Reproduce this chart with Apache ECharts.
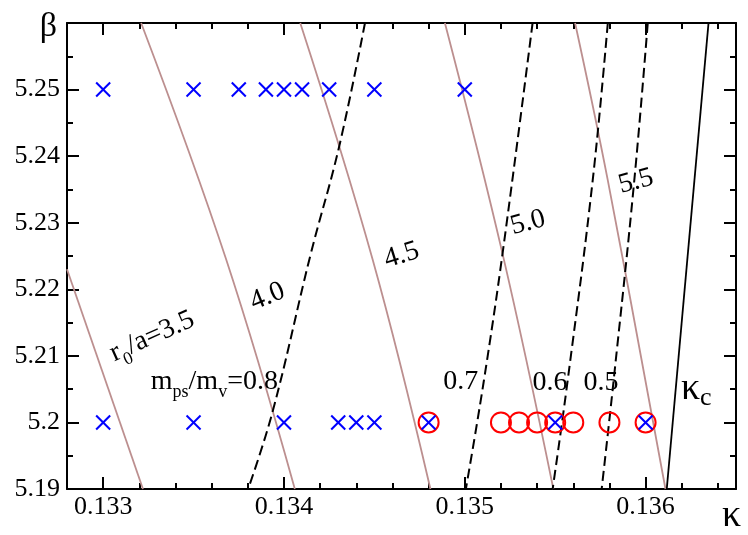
<!DOCTYPE html>
<html>
<head>
<meta charset="utf-8">
<script src="https://cdn.jsdelivr.net/npm/echarts@6/dist/echarts.min.js"></script>
<style>html,body{margin:0;padding:0;background:#fff}#c{width:748px;height:535px}</style>
</head>
<body>
<div id="c"></div>
<script>
// ---- data ----
const xMajorTicks = [0.133, 0.134, 0.135, 0.136];
const xMinorTicks = [0.1328, 0.1332, 0.1334, 0.1336, 0.1338, 0.1342, 0.1344, 0.1346, 0.1348, 0.1352, 0.1354, 0.1356, 0.1358, 0.1362, 0.1364];
const yMajorTicks = [5.19, 5.20, 5.21, 5.22, 5.23, 5.24, 5.25, 5.26];
const yMinorTicks = [5.195, 5.205, 5.215, 5.225, 5.235, 5.245, 5.255];

// simulation points (kappa) at beta = 5.25 and 5.20
const crossKappa525 = [0.1330, 0.1335, 0.13375, 0.1339, 0.1340, 0.1341, 0.13425, 0.1345, 0.1350];
const crossKappa520 = [0.1330, 0.1335, 0.1340, 0.1343, 0.1344, 0.1345, 0.1348, 0.1355, 0.1360];
const circleKappa520 = [0.1348, 0.1352, 0.1353, 0.1354, 0.1355, 0.1356, 0.1358, 0.1360];

// r0/a contours [kappa, beta]
const r0a35 = [[0.1328, 5.223], [0.13322, 5.19]];
const r0a40 = [[0.13321, 5.26], [0.13368, 5.2245], [0.13406, 5.19]];
const r0a45 = [[0.13409, 5.26], [0.13449, 5.2245], [0.13481, 5.19]];
const r0a50 = [[0.13489, 5.26], [0.13521, 5.2252], [0.13549, 5.19]];
const r0a55 = [[0.13561, 5.26], [0.13579, 5.2365], [0.13611, 5.19]];

// m_ps/m_v contours [kappa, beta]
const mpv08 = [[0.134448, 5.26], [0.134304, 5.2413], [0.134147, 5.2252], [0.133938, 5.2017], [0.133802, 5.19]];
const mpv07 = [[0.135375, 5.26], [0.135212, 5.2260], [0.135104, 5.2060], [0.135006, 5.19]];
const mpv06 = [[0.135791, 5.26], [0.135708, 5.2365], [0.135570, 5.2065], [0.135486, 5.19]];
const mpv05 = [[0.136012, 5.26], [0.135938, 5.2365], [0.135824, 5.2065], [0.135757, 5.19]];
const kappaC = [[0.136348, 5.26], [0.136117, 5.19]];

// annotation texts and their anchors [kappa, beta]
const annoTexts = ['{n|r}{s|0}{n|/a=3.5}', '{n|4.0}', '{n|m}{s|ps}{n|/m}{s|v}{n|=0.8}', '{n|4.5}', '{n|5.0}', '{n|5.5}', '{n|0.7}', '{n|0.6}', '{n|0.5}', '{k|κ}{kc|c}'];
const annoAnchors = [[0.133271, 5.2129], [0.133909, 5.2189], [0.133615, 5.2062], [0.134651, 5.2251], [0.135349, 5.2300], [0.135947, 5.2362], [0.134978, 5.2062], [0.135471, 5.2060], [0.135753, 5.2060], [0.136280, 5.2050]];
const annoRotate = [24, 22, 0, 17, 15, 15, 0, 0, 0, 0];

// ---- chart ----
const FONT = '"Liberation Serif", "Times New Roman", serif';
const chart = echarts.init(document.getElementById('c'), null, {renderer: 'canvas'});

function xAxisDef(pos, ticks, len, showLine, showLabel, extra) {
  return Object.assign({
    type: 'value', min: 0.1328, max: 0.1365, position: pos, gridIndex: 0,
    axisLine: {show: showLine, onZero: false, lineStyle: {color: '#000', width: 2}},
    splitLine: {show: false},
    axisTick: {show: true, inside: true, length: len, customValues: ticks, lineStyle: {color: '#000', width: 2}},
    axisLabel: {show: showLabel, customValues: ticks, formatter: v => v.toFixed(3), color: '#000', fontSize: 26, fontFamily: FONT, margin: 5},
    minorTick: {show: false}
  }, extra || {});
}
function yAxisDef(pos, ticks, len, showLine, showLabel, extra) {
  return Object.assign({
    type: 'value', min: 5.19, max: 5.26, position: pos, gridIndex: 0,
    axisLine: {show: showLine, onZero: false, lineStyle: {color: '#000', width: 2}},
    splitLine: {show: false},
    axisTick: {show: true, inside: true, length: len, customValues: ticks, lineStyle: {color: '#000', width: 2}},
    axisLabel: {show: showLabel, customValues: ticks.filter(t => t < 5.2555), formatter: v => String(+v.toFixed(2)), color: '#000', fontSize: 26, fontFamily: FONT, margin: 7},
    minorTick: {show: false}
  }, extra || {});
}

function crossSeries(kappas, beta) {
  return {
    type: 'custom', z: 5,
    data: kappas.map(k => [k, beta]),
    renderItem: function (params, api) {
      const p = api.coord([api.value(0), api.value(1)]);
      const s = 7;
      const st = {stroke: '#0000ff', lineWidth: 2};
      return {type: 'group', children: [
        {type: 'line', shape: {x1: p[0] - s, y1: p[1] - s, x2: p[0] + s, y2: p[1] + s}, style: st},
        {type: 'line', shape: {x1: p[0] - s, y1: p[1] + s, x2: p[0] + s, y2: p[1] - s}, style: st}
      ]};
    }
  };
}
function brown(d) {
  return {type: 'line', data: d, smooth: 0.4, showSymbol: false, symbol: 'none', z: 2, lineStyle: {color: '#bc8f8f', width: 1.8}};
}
function dashed(d) {
  return {type: 'line', data: d, smooth: 0.4, showSymbol: false, symbol: 'none', z: 3, lineStyle: {color: '#000', width: 2, type: [10, 5]}};
}

const richStyles = {
  n: {fontSize: 28, fontFamily: FONT, color: '#000', opacity: 1, lineHeight: 40, verticalAlign: 'middle'},
  s: {fontSize: 18, fontFamily: FONT, color: '#000', opacity: 1, lineHeight: 20, verticalAlign: 'bottom'},
  k: {fontSize: 38, fontFamily: FONT, color: '#000', opacity: 1, lineHeight: 44, verticalAlign: 'middle'},
  kc: {fontSize: 26, fontFamily: FONT, color: '#000', opacity: 1, lineHeight: 22, verticalAlign: 'bottom'}
};

// annotations as a custom series of text elements anchored in data coordinates
const annoSeries = {
  type: 'custom', z: 6, silent: true,
  data: annoAnchors.map((a, i) => [a[0], a[1], i]),
  renderItem: function (params, api) {
    const i = api.value(2);
    const p = api.coord([api.value(0), api.value(1)]);
    return {
      type: 'text', x: p[0], y: p[1], rotation: annoRotate[i] * Math.PI / 180,
      style: {text: annoTexts[i], rich: richStyles, fill: '#000', align: 'center', verticalAlign: 'middle', font: '28px ' + FONT}
    };
  }
};

const option = {
  animation: false,
  backgroundColor: '#fff',
  grid: {left: 67, top: 23, right: 12, bottom: 45, containLabel: false},
  xAxis: [
    xAxisDef('bottom', xMajorTicks, 12, true, true, {name: 'κ', nameLocation: 'end', nameGap: -14,
      nameTextStyle: {fontSize: 38, fontFamily: FONT, color: '#000', align: 'left', verticalAlign: 'top', padding: [8, 0, 0, 0]}}),
    xAxisDef('bottom', xMinorTicks, 6, false, false),
    xAxisDef('top', xMajorTicks, 12, true, false),
    xAxisDef('top', xMinorTicks, 6, false, false)
  ],
  yAxis: [
    yAxisDef('left', yMajorTicks, 12, true, true, {name: 'β', nameLocation: 'end', nameGap: -4,
      nameTextStyle: {fontSize: 34, fontFamily: FONT, color: '#000', align: 'right', verticalAlign: 'middle', padding: [0, 10, 0, 0]}}),
    yAxisDef('left', yMinorTicks, 6, false, false),
    yAxisDef('right', yMajorTicks, 12, true, false),
    yAxisDef('right', yMinorTicks, 6, false, false)
  ],
  series: [
    brown(r0a35), brown(r0a40), brown(r0a45), brown(r0a50), brown(r0a55),
    dashed(mpv08), dashed(mpv07), dashed(mpv06), dashed(mpv05),
    {type: 'line', data: kappaC, showSymbol: false, symbol: 'none', z: 3, lineStyle: {color: '#000', width: 1.8}},
    {type: 'scatter', z: 4, symbol: 'circle', symbolSize: 20,
      itemStyle: {color: 'rgba(0,0,0,0)', borderColor: '#ff0000', borderWidth: 2, opacity: 1},
      data: circleKappa520.map(k => [k, 5.20])},
    crossSeries(crossKappa525, 5.25),
    crossSeries(crossKappa520, 5.20),
    annoSeries
  ]
};
chart.setOption(option);
</script>
</body>
</html>
